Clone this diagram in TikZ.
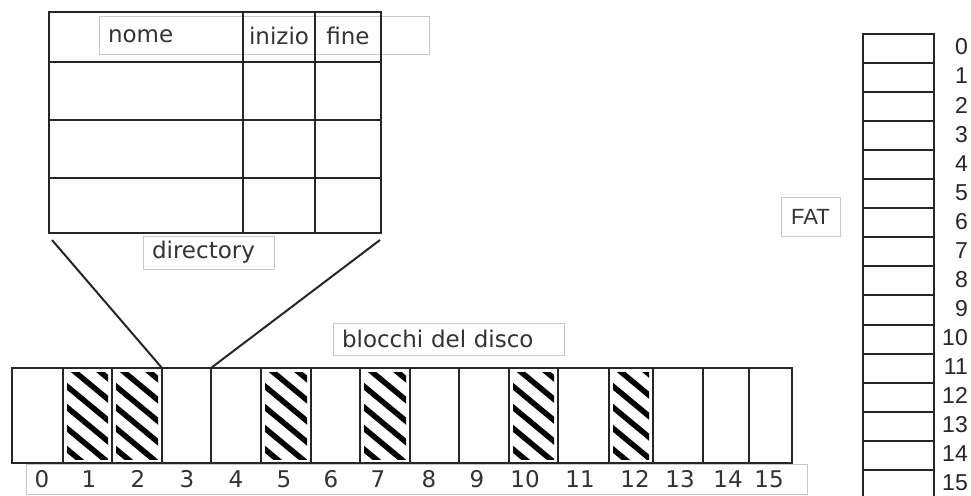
\documentclass[tikz,border=0pt]{standalone}
\usepackage{fontspec}
\setmainfont{DejaVu Sans}
\newfontfamily\fatfont{Liberation Sans}
\usetikzlibrary{positioning}

\begin{document}
\begin{tikzpicture}[x=1pt,y=-1pt,
cell/.style={draw=black!85,line width=2pt,inner sep=0pt,outer sep=0pt},
link/.style={draw=black!85,line width=2pt},
glabel/.style={draw=black!22,line width=1pt,inner sep=0pt,outer sep=0pt,
    text=black!80,font=\fontsize{23}{27}\selectfont},
num/.style={text=black!80,font=\fontsize{23}{27}\selectfont,inner sep=0pt},
fatnum/.style={text=black!85,font=\fatfont\fontsize{23}{27}\selectfont,inner sep=0pt,anchor=east}]
\useasboundingbox (0,0) rectangle (971,495);

% header labels of the directory
\node (hnome) [glabel,anchor=north west,minimum width=144,minimum height=38,
    text width=126,align=left,inner xsep=9pt] at (99,17) {nome};
\node (hinizio) [glabel,anchor=north west,minimum width=72,minimum height=38] at (243,17) {inizio};
\node (hfine) [glabel,anchor=north west,minimum width=66,minimum height=38] at (315,17) {fine};
\node (hblank) [glabel,anchor=north west,minimum width=48,minimum height=38] at (381,17) {};

% directory table
\foreach \r/\ya/\yb in {1/12/62,2/62/120,3/120/178,4/178/233}
  \foreach \c/\xa/\xb in {1/49/243,2/243/315,3/315/381}
    \node (dir\r\c) [cell,anchor=north west,minimum width=\xb-\xa,minimum height=\yb-\ya] at (\xa,\ya) {};
\node (dirlabel) [glabel,anchor=north west,minimum width=131,minimum height=33,
    text width=113,align=left,inner xsep=9pt] at (143,236) {directory};

% disk blocks
\node (disklabel) [glabel,anchor=north west,minimum width=231,minimum height=32,
    text width=213,align=left,inner xsep=9pt] at (333,323) {blocchi del disco};
\node (numbox) [glabel,anchor=north west,minimum width=781,minimum height=30] at (26,464) {};
\foreach \i/\a/\b in {0/12/63,1/63/112,2/112/162,3/162/211,4/211/261,5/261/311,
    6/311/360,7/360/410,8/410/459,9/459/509,10/509/558,11/558/609,12/609/653,
    13/653/703,14/703/749,15/749/792}
  \node (blk\i) [cell,anchor=north west,minimum width=\b-\a,minimum height=95] at (\a,368) {};
\foreach \i in {1,2,5,7,10,12} {
  \begin{scope}
    \clip ([shift={(4pt,-4pt)}]blk\i.north west) rectangle ([shift={(-4pt,4pt)}]blk\i.south east);
    \foreach \k in {-3,...,5}
      \draw[line width=5.5pt] ([yshift=-15pt-\k*21pt]blk\i.north west) -- ++(70,58);
  \end{scope}
}
\foreach \i/\x in {0/42,1/89,2/138,3/187,4/236,5/284,6/331,7/378,8/429,9/477,
    10/525,11/580,12/635,13/680,14/728,15/769}
  \node (n\i) [num] at (\x,479) {\i};

% links between directory and block 3
\draw[link] ([shift={(3pt,-7pt)}]dir41.south west) -- (blk3.north west);
\draw[link] ([shift={(-1pt,-7pt)}]dir43.south east) -- (blk3.north east);

% FAT
\node (fatlabel) [glabel,font=\fatfont\fontsize{22}{26}\selectfont,anchor=north west,
    minimum width=59,minimum height=39] at (781,197) {FAT};
\foreach \i in {0,...,15} {
  \node (fat\i) [cell,anchor=north west,minimum width=71,minimum height=29.05] at (863,34+\i*29.05) {};
  \node [fatnum] at ([shift={(34pt,1.5pt)}]fat\i.east) {\i};
}
\end{tikzpicture}
\end{document}
